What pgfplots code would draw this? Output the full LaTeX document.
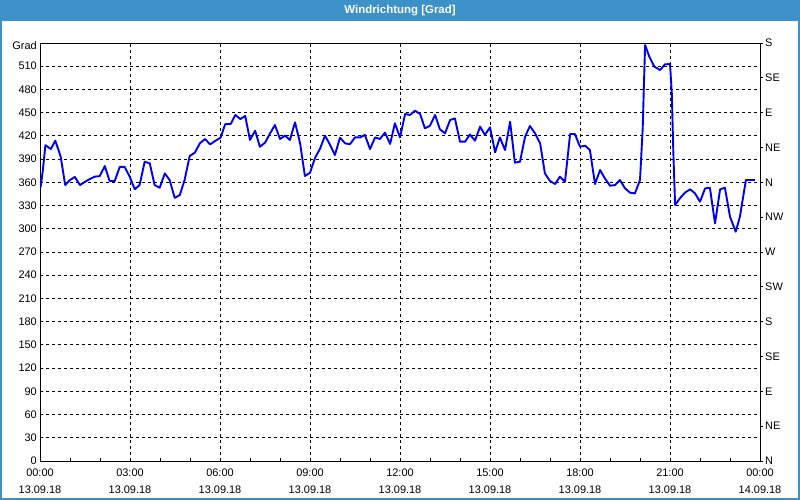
\documentclass[border=0pt]{standalone}
\usepackage{pgfplots}
\pgfplotsset{compat=1.18}
\usepackage{fontspec}
\setmainfont{Liberation Sans}
\definecolor{barblue}{RGB}{60,145,200}
\definecolor{lineblue}{RGB}{0,0,240}
\pgfplotstableread{
h v
0.02 353.5
0.09 373.8
0.18 408
0.36 403
0.51 413.8
0.69 393
0.84 356.5
1.0 363
1.16 367
1.33 356.5
1.6 363
1.82 367.3
1.99 368
2.16 381
2.32 361.7
2.49 361.7
2.66 380
2.82 380
2.99 367.3
3.16 351
3.32 356.5
3.49 386.7
3.66 384.5
3.82 356.5
3.99 353
4.16 371.5
4.32 363
4.49 340
4.66 343.5
4.82 363
4.99 394
5.16 398.3
5.33 410.4
5.5 416
5.67 409
5.83 413.3
6.02 417.7
6.17 435
6.36 435.5
6.51 447
6.68 441.8
6.84 445.7
7.0 414.7
7.17 426.7
7.33 406
7.5 411.2
7.67 423.3
7.83 434
8.0 416
8.17 420.3
8.33 414.7
8.5 437.5
8.67 410.4
8.83 368.2
9.0 372.3
9.17 391.8
9.33 403
9.5 420.3
9.67 408.3
9.83 395.3
10.0 417.7
10.17 410.4
10.33 409.2
10.5 418
10.67 418
10.83 421.3
11.0 403
11.17 418
11.33 416
11.5 424.2
11.67 409.6
11.83 436.2
12.0 418
12.17 448.3
12.33 447
12.5 452.5
12.67 448.3
12.83 429.7
13.0 433.2
13.17 447
13.33 428.5
13.5 423.3
13.67 440.5
13.83 442.6
14.0 412.5
14.17 412.5
14.33 421.9
14.5 413.8
14.67 431.9
14.83 421.3
15.0 431
15.17 398.8
15.33 418
15.5 401.7
15.67 438.3
15.83 385.4
16.0 386.7
16.17 419
16.33 432.8
16.5 423.3
16.67 410.4
16.83 371.6
17.0 361.7
17.17 357.8
17.33 367.3
17.5 360.8
17.67 422.4
17.83 422.4
18.0 406
18.17 407.3
18.33 401.7
18.5 357.8
18.67 375.9
18.83 365.1
19.0 355.6
19.17 356.5
19.33 363
19.5 352.2
19.67 346.6
19.83 345.7
20.0 363
20.09 429.8
20.13 485.7
20.17 537.4
20.31 522.3
20.48 509.4
20.67 505.1
20.83 512.4
21.0 512.8
21.06 475
21.11 399.6
21.17 330.7
21.33 339.4
21.5 346.7
21.67 351
21.83 345.9
22.0 335
22.17 352.2
22.33 353
22.5 307
22.67 351
22.83 353
23.0 315.6
23.19 296.2
23.33 315.6
23.53 363
23.83 363
}\winddata
\begin{document}
\begin{tikzpicture}[x=1bp,y=1bp,font=\fontsize{11}{13}\selectfont]
\useasboundingbox (0,0) rectangle (800,500);
\fill[white] (0,0) rectangle (800,500);
\fill[barblue] (0,479) rectangle (800,500);
\draw[barblue,line width=2bp] (1,0) -- (1,500);
\draw[barblue,line width=2bp] (799,0) -- (799,500);
\draw[barblue,line width=2bp] (0,1) -- (800,1);
\node[white,font=\fontsize{11.5}{13}\selectfont\bfseries] at (400,489.5) {Windrichtung [Grad]};
\node[anchor=east,inner sep=0pt] at (37,454.5) {Grad};
\begin{axis}[
  at={(40bp,39bp)}, anchor=south west,
  scale only axis, width=720bp, height=418bp,
  xmin=0, xmax=24, ymin=0, ymax=540,
  axis line style={black, line width=0.8bp},
  xtick={0,3,...,24},
  minor xtick={1,2,4,5,7,8,10,11,13,14,16,17,19,20,22,23},
  xticklabels={{00:00\\13.09.18},{03:00\\13.09.18},{06:00\\13.09.18},{09:00\\13.09.18},{12:00\\13.09.18},{15:00\\13.09.18},{18:00\\13.09.18},{21:00\\13.09.18},{00:00\\14.09.18}},
  xticklabel style={align=center, font=\fontsize{11}{17}\selectfont, inner sep=1bp, yshift=-7bp},
  xtick pos=bottom, tick align=inside,
  major tick length=0bp, minor tick length=3bp,
  minor tick style={black, line width=0.8bp},
  ytick={0,30,...,510},
  ytick pos=left,
  yticklabel style={font=\fontsize{11}{13}\selectfont, inner sep=0pt, xshift=-3bp},
  /pgf/number format/assume math mode=true,
  grid=major,
  major grid style={black, line width=0.8bp, dash pattern=on 3bp off 3bp},
]
\addplot[lineblue, line width=1.9bp, line join=round] table[x=h,y=v] {\winddata};
\end{axis}
\begin{axis}[
  at={(40bp,39bp)}, anchor=south west,
  scale only axis, width=720bp, height=418bp,
  xmin=0, xmax=24, ymin=0, ymax=540,
  axis x line=none,
  axis y line*=right,
  axis line style={black, line width=0.8bp},
  ytick={0,45,...,540},
  yticklabels={N,NE,E,SE,S,SW,W,NW,N,NE,E,SE,S},
  tick align=outside, major tick length=3bp,
  tick style={black, line width=0.8bp},
  yticklabel style={font=\fontsize{11}{13}\selectfont, inner sep=0pt, xshift=2bp, anchor=west},
]
\addplot[draw=none] coordinates {(0,0)};
\end{axis}
\end{tikzpicture}
\end{document}
